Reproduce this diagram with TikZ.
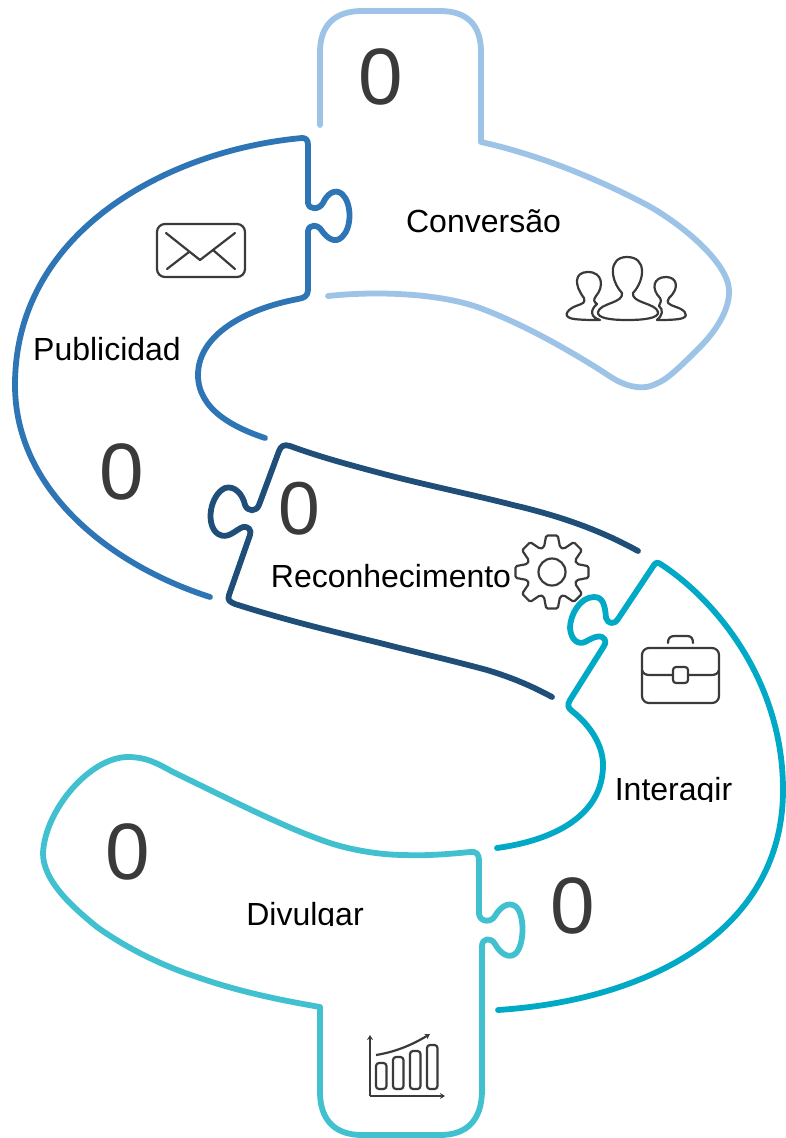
\documentclass[tikz,border=0pt]{standalone}
\usepackage{fontspec}
\setmainfont{Liberation Sans}
\usepackage{xcolor}
\usetikzlibrary{positioning,arrows.meta}
\definecolor{conversaoblue}{HTML}{9DC3E6}
\definecolor{publicblue}{HTML}{2E75B6}
\definecolor{reconblue}{HTML}{1F4E79}
\definecolor{interteal}{HTML}{00A9C6}
\definecolor{divulgteal}{HTML}{41C1CF}
\definecolor{icongray}{HTML}{3A3A3A}
\tikzset{
  band/.style={line width=5.8pt,line cap=round,line join=round},
  icon/.style={draw=icongray,line width=2.2pt,line cap=round,line join=round},
  lbl/.style={anchor=base,inner sep=0pt,text=black,font=\fontsize{32}{32}\selectfont},
  bignum/.style={anchor=base,inner sep=0pt,text=icongray,font=\fontsize{80}{80}\selectfont},
}

\begin{document}
\begin{tikzpicture}[x=1pt,y=-1pt]
  \useasboundingbox (0,0) rectangle (786,1138);
  % Conversao
  \draw[band,conversaoblue] (320,125) -- (320,52) .. controls (320,25) and (335,11) .. (362,11)
    -- (440,11) .. controls (467,11) and (481,25) .. (481,52) -- (481,142)
    .. controls (540,155) and (600,180) .. (647,205)
    .. controls (680,223) and (728,262) .. (729,290)
    .. controls (730,310) and (715,332) .. (700,347)
    .. controls (685,362) and (670,377) .. (660,382)
    .. controls (650,387) and (645,388) .. (637,387)
    .. controls (620,385) and (610,376) .. (597,368)
    .. controls (560,345) and (520,323) .. (480,308)
    .. controls (445,295) and (385,290) .. (328,296);
  % Publicidad
  \draw[band,publicblue] (302,138) .. controls (170,150) and (15,230) .. (15,385)
    .. controls (15,490) and (110,565) .. (210,597);
  \draw[band,publicblue] (302,138) .. controls (306,138) and (308,140) .. (308,145) -- (308,203)
    .. controls (309,210) and (319,210) .. (323,203)
    .. controls (327,194) and (335,188) .. (342,194)
    .. controls (352,203) and (352,228) .. (342,237)
    .. controls (335,244) and (327,238) .. (322,231)
    .. controls (318,224) and (309,224) .. (308,231) -- (308,290)
    .. controls (308,296) and (304,298) .. (298,299)
    .. controls (245,309) and (198,335) .. (198,375)
    .. controls (198,410) and (235,428) .. (265,438);
  % Reconhecimento
  \draw[band,reconblue] (638,551) .. controls (600,530) and (560,516) .. (513,505)
    .. controls (470,494) and (425,485) .. (380,473)
    .. controls (350,465) and (320,457) .. (290,446)
    .. controls (284,444) and (281,446) .. (279,451) -- (259,505)
    .. controls (256,512) and (248,512) .. (245,505)
    .. controls (243,495) and (235,485) .. (225,488)
    .. controls (210,495) and (205,525) .. (218,534)
    .. controls (228,540) and (235,530) .. (243,527)
    .. controls (248,526) and (252,530) .. (250,535) -- (229,595)
    .. controls (227,600) and (230,602) .. (235,604)
    .. controls (285,620) and (335,632) .. (380,643)
    .. controls (415,652) and (450,660) .. (487,670)
    .. controls (510,677) and (530,685) .. (552,697);
  % Interagir
  \draw[band,interteal] (498,1010) .. controls (650,1000) and (783,930) .. (783,790)
    .. controls (783,680) and (715,600) .. (662,565)
    .. controls (658,562) and (656,562) .. (654,565) -- (618,619)
    .. controls (614,625) and (608,624) .. (606,618)
    .. controls (605,605) and (603,597) .. (594,597)
    .. controls (580,597) and (570,615) .. (570,628)
    .. controls (571,640) and (578,645) .. (585,642)
    .. controls (592,638) and (598,635) .. (602,637)
    .. controls (606,639) and (606,643) .. (604,646) -- (570,700)
    .. controls (567,705) and (568,708) .. (572,711)
    .. controls (590,725) and (603,745) .. (603,765)
    .. controls (603,815) and (555,840) .. (497,848);
  % Divulgar
  \draw[band,divulgteal] (482,1090) -- (482,946)
    .. controls (482,938) and (491,937) .. (495,944)
    .. controls (500,953) and (508,959) .. (515,954)
    .. controls (525,946) and (525,912) .. (515,906)
    .. controls (507,901) and (499,909) .. (495,916)
    .. controls (491,923) and (480,922) .. (479,914) -- (479,860)
    .. controls (479,854) and (476,851) .. (470,852)
    .. controls (450,854) and (425,856) .. (405,855)
    .. controls (375,855) and (345,848) .. (330,843)
    .. controls (285,828) and (225,797) .. (173,772)
    .. controls (155,762) and (145,757) .. (128,757)
    .. controls (90,757) and (45,810) .. (43,853)
    .. controls (43,880) and (70,905) .. (97,927)
    .. controls (125,947) and (160,965) .. (197,977)
    .. controls (240,992) and (280,1000) .. (320,1007) -- (320,1092)
    .. controls (320,1120) and (335,1135) .. (362,1135) -- (440,1135)
    .. controls (467,1135) and (482,1120) .. (482,1090);
  % labels
  \node[lbl] (conversao) at (483.5,232) {Conversão};
  \node[lbl] (publicidad) at (107,360) {Publicidad};
  \node[lbl] (reconhecimento) at (391,587) {Reconhecimento};
  \begin{scope}
    \clip (600,765) rectangle (745,801);
    \node[lbl] (interagir) at (673.5,800) {Interagir};
  \end{scope}
  \begin{scope}
    \clip (235,890) rectangle (375,925);
    \node[lbl] (divulgar) at (305,925) {Divulgar};
  \end{scope}
  \node[bignum] (numconv) at (381,104) {0};
  \node[bignum] (numpub) at (122,499) {0};
  \node[bignum,font=\fontsize{75}{75}\selectfont] (numrec) at (299,534) {0};
  \node[bignum] (numint) at (573,933) {0};
  \node[bignum] (numdiv) at (128,879) {0};
  % envelope
  \draw[icon] (157,224) [rounded corners=8pt] rectangle (245,277);
  \draw[icon] (166,233) -- (200,260) -- (235,233);
  \draw[icon] (167,269) -- (189,252);
  \draw[icon] (235,269) -- (213,250);
  % people
  \draw[icon] (622,293) .. controls (610,280) and (608,257) .. (627,257)
    .. controls (647,257) and (645,280) .. (633,293)
    .. controls (631,303) and (656,303) .. (658,312)
    .. controls (659,318) and (645,320) .. (627,320)
    .. controls (610,320) and (597,318) .. (598,312)
    .. controls (600,303) and (624,303) .. (622,293) -- cycle;
  \draw[icon] (600,320) .. controls (590,320) and (575,320) .. (570,318)
    .. controls (562,315) and (570,308) .. (576,306)
    .. controls (584,303) and (585,303) .. (584,298)
    .. controls (574,285) and (574,272) .. (588,272)
    .. controls (603,272) and (604,287) .. (596,296)
    .. controls (593,300) and (594,302) .. (597,304)
    .. controls (590,310) and (590,317) .. (600,320);
  \draw[icon] (657,320) .. controls (665,320) and (678,320) .. (683,318)
    .. controls (690,315) and (683,309) .. (676,307)
    .. controls (668,304) and (666,303) .. (669,298)
    .. controls (680,288) and (677,277) .. (666,277)
    .. controls (653,277) and (651,289) .. (660,298)
    .. controls (662,301) and (660,303) .. (659,306)
    .. controls (664,310) and (662,316) .. (657,320);
  % gear
  \begin{scope}[shift={(552,572)}]
    \draw[icon] (13.5,0) arc (0:360:13.5);
    \draw[icon,rounded corners=1.5pt] (-18:26)
      \foreach \a in {0,45,...,315} { -- (\a-18:26) -- (\a-9:37) -- (\a+9:37) -- (\a+18:26) } -- cycle;
  \end{scope}
  % briefcase
  \draw[icon] (642,648) [rounded corners=7pt] rectangle (719,703);
  \draw[icon] (642,670) .. controls (643,674) and (646,675) .. (650,675) -- (673,675);
  \draw[icon] (688,675) -- (711,675) .. controls (715,675) and (718,674) .. (719,670);
  \draw[icon] (673,667) [rounded corners=3pt] rectangle (688,683);
  \draw[icon] (668,643) .. controls (668,638) and (670,636) .. (675,636) -- (687,636)
    .. controls (691,636) and (693,638) .. (693,643);
  % chart
  \draw[icon,-{Stealth[length=5pt,width=6pt]},line cap=butt] (370,1096) -- (370,1035);
  \draw[icon,-{Stealth[length=5pt,width=6pt]},line cap=butt] (370,1096) -- (445,1096);
  \foreach \bx/\bt in {376/1063,393/1057,410/1051,427/1045}
    \draw[icon,rounded corners=3pt] (\bx,\bt) rectangle (\bx+10.5,1089);
  \draw[icon,-{Stealth[length=5pt,width=6pt]},line cap=butt] (376,1055) .. controls (395,1052) and (412,1045) .. (430,1034);
\end{tikzpicture}
\end{document}
